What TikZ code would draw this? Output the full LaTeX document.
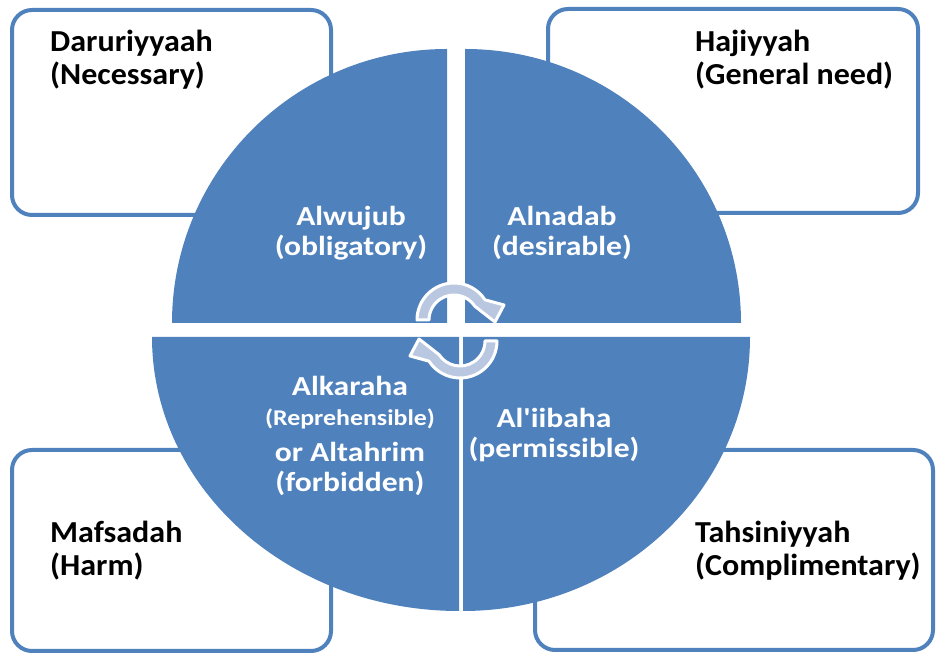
\documentclass[tikz,border=0pt]{standalone}
\usepackage{fontspec}
\setmainfont{Carlito}
\newfontfamily\boxfont[FakeStretch=1.05]{Carlito}
\newfontfamily\circfont[FakeStretch=1.15]{Carlito}
\definecolor{quadblue}{HTML}{4F81BD}
\definecolor{arrowfill}{HTML}{B9C8E0}
\begin{document}
\begin{tikzpicture}[x=1pt,y=1pt,
    box/.style={draw=quadblue, line width=4pt, rounded corners=20pt, fill=white},
    quad/.style={fill=quadblue},
    boxtext/.style={inner sep=0pt, align=left, anchor=north west, font=\boxfont\fontsize{30.5}{33}\selectfont\bfseries},
    quadtext/.style={inner sep=0pt, align=center, text=white, font=\circfont\fontsize{27.5}{30.5}\selectfont\bfseries},
    cyc/.style={fill=arrowfill, draw=white, line width=3pt, line join=round}]
    \useasboundingbox (0,0) rectangle (937,655);

    % corner boxes
    \draw[box] (12,440) rectangle (331,645);
    \draw[box] (548,442) rectangle (918,646);
    \draw[box] (12,4) rectangle (331,205);
    \draw[box] (535,5) rectangle (933,205);

    \node[boxtext] (daru) at (50,625) {Daruriyyaah\\(Necessary)};
    \node[boxtext] (haji) at (695,625) {Hajiyyah\\(General need)};
    \node[boxtext] (mafs) at (50,134) {Mafsadah\\(Harm)};
    \node[boxtext] (tahs) at (695,134) {Tahsiniyyah\\(Complimentary)};

    % four quarters
    \fill[quad] (447,332) -- (172,332) arc[start angle=180, end angle=90, x radius=275, y radius=274] -- cycle;
    \fill[quad] (465,332) -- (465,606) arc[start angle=90, end angle=0, x radius=276, y radius=274] -- cycle;
    \fill[quad] (459,318) -- (152,318) arc[start angle=180, end angle=270, x radius=307, y radius=274] -- cycle;
    \fill[quad] (463,318) -- (463,44) arc[start angle=270, end angle=360, x radius=287, y radius=274] -- cycle;

    \node[quadtext] (wujub) at (351,422) {Alwujub\\(obligatory)};
    \node[quadtext] (nadab) at (562,422) {Alnadab\\(desirable)};
    \node[quadtext] (karaha) at (350,219) {Alkaraha\\{\fontsize{22.5}{24}\selectfont (Reprehensible)}\\[5pt]or Altahrim\\(forbidden)};
    \node[quadtext] (ibaha) at (554,220) {Al'iibaha\\(permissible)};

    % cycle arrows
    \draw[cyc, shift={(454,335)}] (180:37) arc[start angle=180, end angle=33, radius=37]
        -- (50,15) -- (41,-2) -- (33:25) arc[start angle=33, end angle=180, radius=25] -- cycle;
    \draw[cyc, shift={(460,314)}] (0:37) arc[start angle=0, end angle=-147, radius=37]
        -- (-50,-15) -- (-41,2) -- (-147:25) arc[start angle=-147, end angle=0, radius=25] -- cycle;
\end{tikzpicture}
\end{document}
